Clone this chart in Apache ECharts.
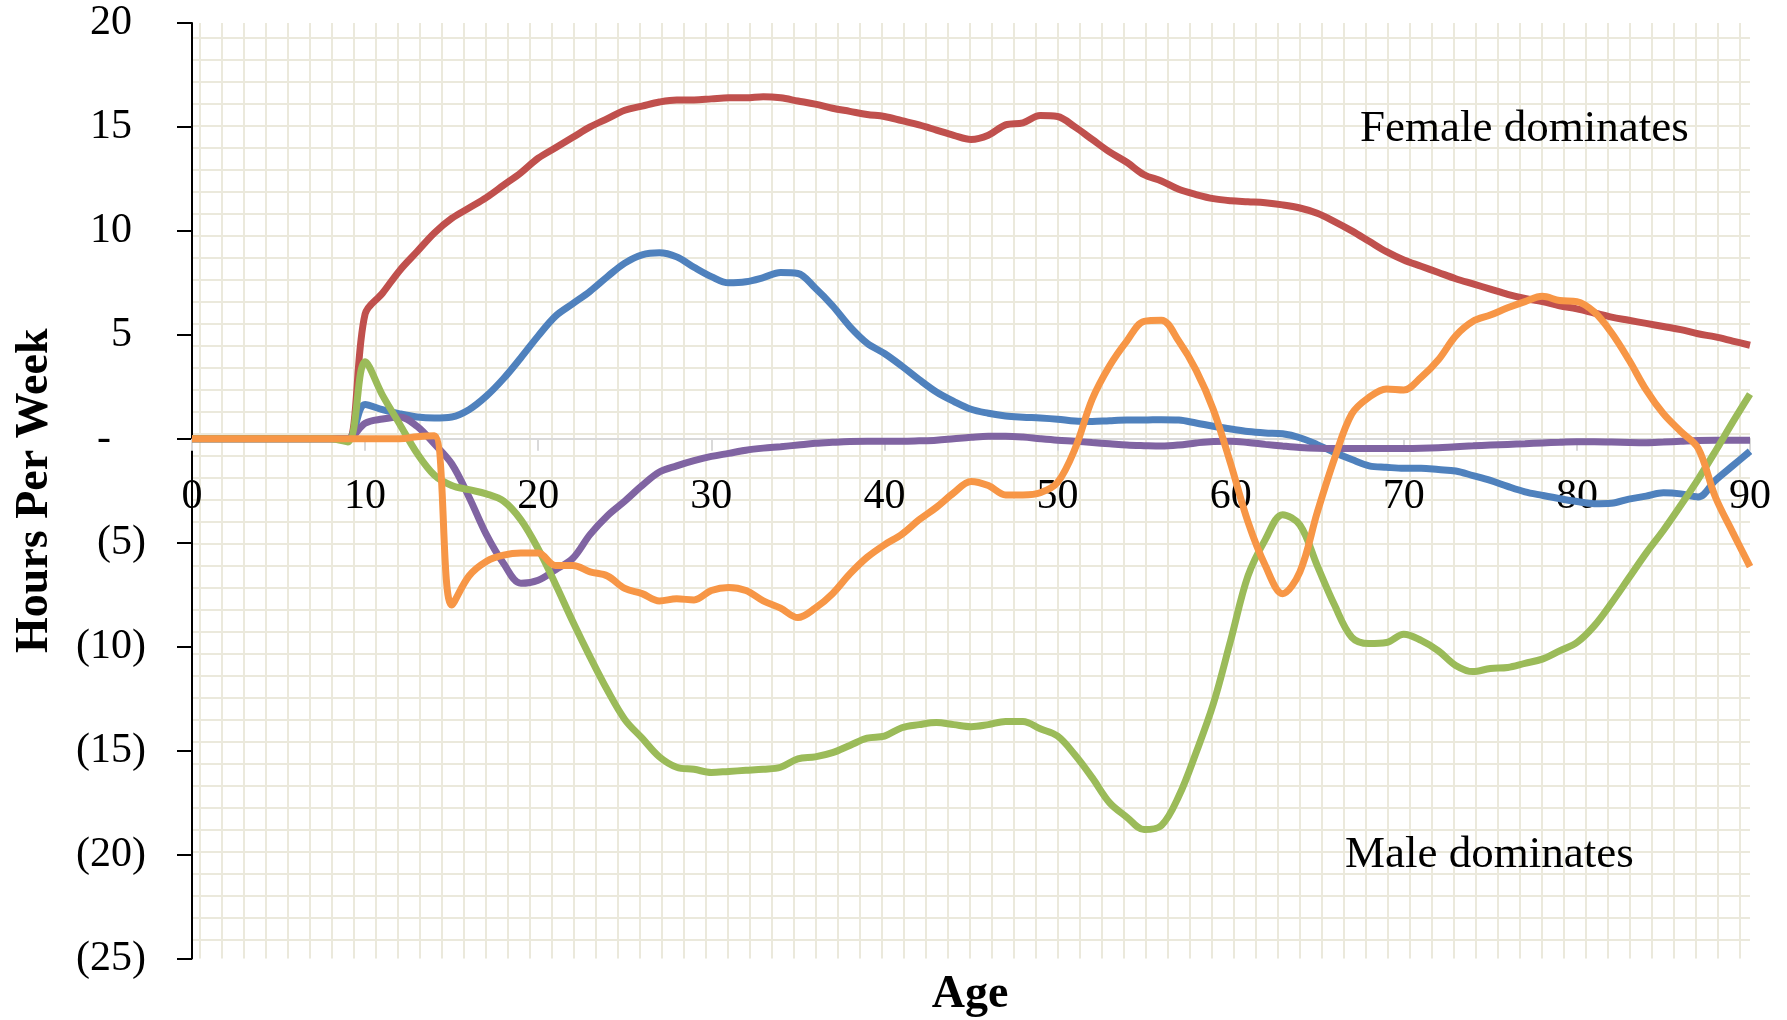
<!DOCTYPE html>
<html>
<head>
<meta charset="utf-8">
<script src="https://cdn.jsdelivr.net/npm/echarts@6/dist/echarts.min.js"></script>
<style>
  html, body { margin: 0; padding: 0; background: #ffffff; }
  #chart { width: 1787px; height: 1020px; }
</style>
</head>
<body>
<div id="chart"></div>
<script>
// Ages along the horizontal axis (years)
const ages = [
  0, 1, 2, 3, 4, 5, 6, 7, 8, 9,
  10, 11, 12, 13, 14, 15, 16, 17, 18, 19,
  20, 21, 22, 23, 24, 25, 26, 27, 28, 29,
  30, 31, 32, 33, 34, 35, 36, 37, 38, 39,
  40, 41, 42, 43, 44, 45, 46, 47, 48, 49,
  50, 51, 52, 53, 54, 55, 56, 57, 58, 59,
  60, 61, 62, 63, 64, 65, 66, 67, 68, 69,
  70, 71, 72, 73, 74, 75, 76, 77, 78, 79,
  80, 81, 82, 83, 84, 85, 86, 87, 88, 89,
  90
];

// Female minus male hours per week, one value per age
const redLine = [
  0, 0, 0, 0, 0, 0, 0, 0, 0, 0,
  6.0, 7.0, 8.1, 9.0, 9.9, 10.6, 11.1, 11.6, 12.2, 12.8,
  13.5, 14.0, 14.5, 15.0, 15.4, 15.8, 16.0, 16.2, 16.3, 16.3,
  16.35, 16.4, 16.4, 16.45, 16.4, 16.25, 16.1, 15.9, 15.75, 15.6,
  15.5, 15.3, 15.1, 14.85, 14.6, 14.4, 14.6, 15.1, 15.2, 15.55,
  15.5, 15.0, 14.4, 13.8, 13.3, 12.7, 12.4, 12.0, 11.75, 11.55,
  11.45, 11.4, 11.35, 11.25, 11.1, 10.85, 10.45, 10.0, 9.5, 9.0,
  8.6, 8.3, 8.0, 7.7, 7.45, 7.2, 6.95, 6.75, 6.6, 6.4,
  6.25, 6.05, 5.85, 5.7, 5.55, 5.4, 5.25, 5.05, 4.9, 4.7,
  4.5
];

const blueLine = [
  0, 0, 0, 0, 0, 0, 0, 0, 0, 0,
  1.65, 1.4, 1.2, 1.05, 1.0, 1.05, 1.4, 2.05, 2.9, 3.9,
  4.95, 5.9, 6.5, 7.1, 7.8, 8.45, 8.85, 8.95, 8.75, 8.25,
  7.8, 7.5, 7.55, 7.75, 8.0, 7.95, 7.25, 6.4, 5.4, 4.6,
  4.1, 3.5, 2.85, 2.25, 1.8, 1.42, 1.23, 1.1, 1.04, 1.0,
  0.94, 0.85, 0.83, 0.87, 0.9, 0.9, 0.92, 0.9, 0.76, 0.6,
  0.47, 0.35, 0.28, 0.24, 0.05, -0.28, -0.66, -1.0, -1.3, -1.37,
  -1.42, -1.42, -1.48, -1.55, -1.77, -2.0, -2.29, -2.55, -2.72, -2.88,
  -3.02, -3.12, -3.1, -2.9, -2.76, -2.6, -2.65, -2.8, -2.0, -1.3,
  -0.6
];

const purpleLine = [
  0, 0, 0, 0, 0, 0, 0, 0, 0, 0,
  0.75, 0.95, 1.05, 0.6, -0.25, -1.2, -2.8, -4.6, -6.0, -6.95,
  -6.8, -6.3, -5.75, -4.6, -3.7, -3.0, -2.25, -1.6, -1.3, -1.05,
  -0.85, -0.7, -0.55, -0.45, -0.38, -0.3, -0.22, -0.17, -0.13, -0.12,
  -0.12, -0.12, -0.1, -0.07, 0.0, 0.07, 0.12, 0.12, 0.08, 0.0,
  -0.07, -0.12, -0.18, -0.24, -0.3, -0.33, -0.35, -0.3, -0.2, -0.13,
  -0.12, -0.18, -0.27, -0.35, -0.42, -0.46, -0.47, -0.47, -0.47, -0.47,
  -0.47, -0.46, -0.43, -0.38, -0.34, -0.3, -0.27, -0.24, -0.2, -0.17,
  -0.14, -0.14, -0.16, -0.18, -0.19, -0.16, -0.12, -0.08, -0.07, -0.07,
  -0.07
];

const greenLine = [
  0, 0, 0, 0, 0, 0, 0, 0, 0, -0.15,
  3.7, 2.1, 0.7, -0.7, -1.75, -2.25, -2.45, -2.65, -3.0, -3.9,
  -5.3, -7.0, -8.8, -10.5, -12.1, -13.5, -14.4, -15.3, -15.8, -15.9,
  -16.05, -16.0, -15.95, -15.9, -15.8, -15.4, -15.3, -15.1, -14.75, -14.4,
  -14.3, -13.9, -13.75, -13.65, -13.75, -13.85, -13.75, -13.6, -13.6, -13.95,
  -14.3, -15.2, -16.3, -17.5, -18.2, -18.8, -18.6, -17.2, -15.1, -12.75,
  -9.7, -6.6, -4.85, -3.65, -4.15, -6.1, -8.0, -9.55, -9.85, -9.8,
  -9.4, -9.7, -10.2, -10.9, -11.2, -11.05, -11.0, -10.8, -10.6, -10.2,
  -9.8, -9.0, -7.9, -6.7, -5.5, -4.4, -3.2, -1.95, -0.6, 0.8,
  2.15
];

const orangeLine = [
  0, 0, 0, 0, 0, 0, 0, 0, 0, 0,
  0, 0, 0, 0.1, 0.15, -8.0, -6.6, -5.9, -5.6, -5.5,
  -5.5, -6.1, -6.1, -6.4, -6.6, -7.2, -7.45, -7.8, -7.7, -7.75,
  -7.3, -7.15, -7.3, -7.8, -8.15, -8.6, -8.15, -7.45, -6.5, -5.7,
  -5.1, -4.6, -3.9, -3.3, -2.6, -2.05, -2.25, -2.7, -2.7, -2.6,
  -2.1, -0.5, 1.9, 3.5, 4.7, 5.65, 5.7, 4.7, 3.3, 1.4,
  -1.2, -4.0, -6.1, -7.45, -6.4, -3.55, -0.95, 1.2, 2.0, 2.4,
  2.35, 2.95, 3.8, 4.95, 5.65, 5.95, 6.3, 6.6, 6.85, 6.65,
  6.6, 6.1, 5.1, 3.8, 2.35, 1.2, 0.35, -0.45, -2.8, -4.5,
  -6.15
];

// Axis ranges and tick spacing
const xRange = [0, 90, 10];
const yRange = [-25, 20, 5];

const serif = '"Liberation Serif", "DejaVu Serif", serif';

// Plot area placement
const gridTop = 23;
const gridHeight = 935.5;

// Graph-paper tile for the plot background
const tile = document.createElement('canvas');
tile.width = 22;
tile.height = 22;
const tctx = tile.getContext('2d');
tctx.fillStyle = '#EBE9DC';
tctx.fillRect(1, 0, 2, 22);
tctx.fillRect(0, 15, 22, 2);

// Accounting-style tick labels: negatives in parentheses, zero as a dash
function accounting(v) {
  if (v > 0) return v + '{h|)}';
  if (v < 0) return '(' + (-v) + ')';
  return '-{h|0)}';
}

function lineSeries(name, values, color) {
  return {
    name: name,
    type: 'line',
    data: ages.map((a, i) => [a, values[i]]),
    showSymbol: false,
    smooth: 0.35,
    lineStyle: { color: color, width: 7 },
    itemStyle: { color: color },
    emphasis: { disabled: true },
    animation: false
  };
}

// The age axis sits on the zero line of the hours axis
const zeroOffset = -gridHeight * (0 - yRange[0]) / (yRange[1] - yRange[0]);

const chart = echarts.init(document.getElementById('chart'), null, { renderer: 'canvas' });

chart.setOption({
  backgroundColor: '#ffffff',
  animation: false,
  grid: {
    left: 192,
    right: 37,
    top: gridTop,
    height: gridHeight,
    show: true,
    borderWidth: 0,
    backgroundColor: { image: tile, repeat: 'repeat' },
    containLabel: false,
    outerBoundsMode: 'none'
  },
  xAxis: {
    type: 'value',
    position: 'bottom',
    offset: zeroOffset,
    min: xRange[0],
    max: xRange[1],
    interval: xRange[2],
    axisLine: { show: true, onZero: false, lineStyle: { color: '#D9D9D9', width: 2 } },
    axisTick: { show: true, length: 12, lineStyle: { color: '#D9D9D9', width: 2 } },
    axisLabel: {
      fontFamily: serif,
      fontSize: 42,
      color: '#000000',
      margin: 37,
      showMinLabel: true,
      showMaxLabel: true
    },
    splitLine: { show: false }
  },
  yAxis: {
    type: 'value',
    min: yRange[0],
    max: yRange[1],
    interval: yRange[2],
    axisLine: { show: true, onZero: false, lineStyle: { color: '#000000', width: 2 } },
    axisTick: { show: true, length: 15, lineStyle: { color: '#000000', width: 2 } },
    splitLine: { show: false },
    axisLabel: {
      fontFamily: serif,
      fontSize: 42,
      color: '#000000',
      margin: 46,
      formatter: accounting,
      rich: { h: { fontFamily: serif, fontSize: 42, color: 'transparent' } }
    },
    name: 'Hours Per Week',
    nameLocation: 'middle',
    nameRotate: 90,
    nameGap: 134,
    nameTextStyle: { fontFamily: serif, fontSize: 46, fontWeight: 'bold', color: '#000000' }
  },
  graphic: [
    {
      type: 'text',
      x: 1360,
      y: 129,
      silent: true,
      style: {
        text: 'Female dominates',
        font: '45px ' + serif,
        fill: '#000000',
        align: 'left', verticalAlign: 'middle',
        textAlign: 'left', textVerticalAlign: 'middle'
      }
    },
    {
      type: 'text',
      x: 1345,
      y: 855,
      silent: true,
      style: {
        text: 'Male dominates',
        font: '45px ' + serif,
        fill: '#000000',
        align: 'left', verticalAlign: 'middle',
        textAlign: 'left', textVerticalAlign: 'middle'
      }
    },
    {
      type: 'text',
      x: 970,
      y: 995,
      silent: true,
      style: {
        text: 'Age',
        font: 'bold 46px ' + serif,
        fill: '#000000',
        align: 'center', verticalAlign: 'middle',
        textAlign: 'center', textVerticalAlign: 'middle'
      }
    }
  ],
  series: [
    lineSeries('red', redLine, '#C0504D'),
    lineSeries('blue', blueLine, '#4F81BD'),
    lineSeries('purple', purpleLine, '#8064A2'),
    lineSeries('green', greenLine, '#9BBB59'),
    lineSeries('orange', orangeLine, '#F79646')
  ]
});
</script>
</body>
</html>
